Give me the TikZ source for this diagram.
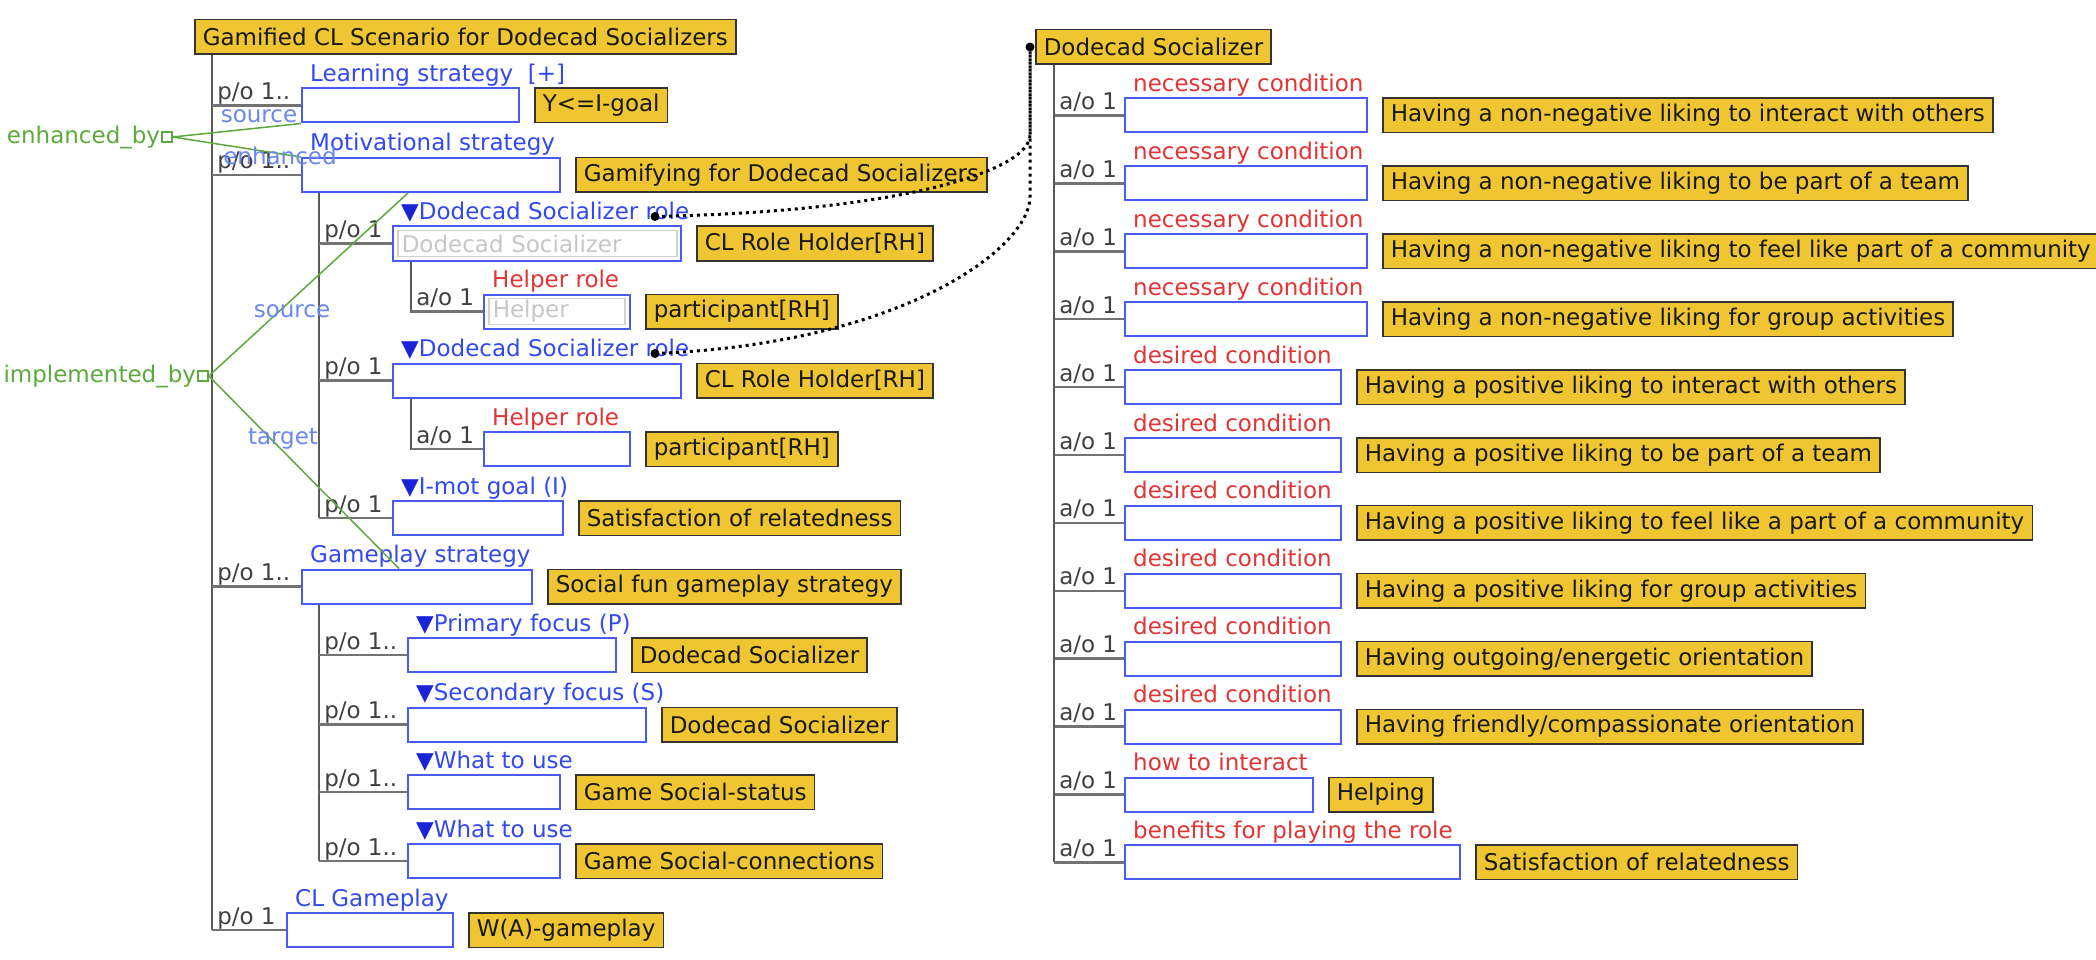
\documentclass[tikz,border=0pt]{standalone}
\usepackage{fontspec}
\setmainfont{DejaVu Sans}
\definecolor{boxyellow}{RGB}{239,197,50}
\definecolor{slotblue}{RGB}{72,92,245}
\definecolor{capblue}{RGB}{50,72,240}
\definecolor{triblue}{RGB}{25,35,215}
\definecolor{capred}{RGB}{226,52,52}
\definecolor{relgreen}{RGB}{92,170,62}
\definecolor{rolelabel}{RGB}{105,135,240}
\newcommand\dtri{{\color{triblue}▼}}
\tikzset{
  every node/.style={font=\fontsize{23}{27}\selectfont},
  yel/.style={draw=black!80, line width=1.5pt, fill=boxyellow, text=black!90, anchor=west, minimum height=34.5pt, inner xsep=8pt, inner ysep=0pt},
  slot/.style={draw=slotblue, line width=2pt, fill=white, anchor=west, minimum height=34pt, inner sep=0pt},
  ghost/.style={draw=black!18, line width=1.5pt, fill=white, text=black!22, anchor=west, minimum height=26pt, inner xsep=4pt, inner ysep=0pt, align=left},
  captb/.style={anchor=base west, xshift=9pt, yshift=6pt, inner sep=0pt, text=capblue},
  captr/.style={captb, text=capred},
  mult/.style={anchor=base west, xshift=4pt, yshift=6pt, inner sep=0pt, text=black!75},
  trunk/.style={draw=black!65, line width=2pt},
  arm/.style={draw=black!55, line width=2.5pt},
  rel/.style={draw=relgreen, line width=1.5pt},
  relsq/.style={draw=relgreen, line width=1.5pt, fill=white, minimum size=10pt, inner sep=0pt},
  reltext/.style={text=relgreen, inner sep=0pt},
  endtext/.style={text=rolelabel, inner sep=0pt},
  link/.style={line width=3pt, dash pattern=on 3pt off 4pt}
}
\begin{document}
\begin{tikzpicture}[x=1pt, y=-1pt]
  \useasboundingbox (0,0) rectangle (2096,960);

  \node[yel] (scen) at (194,37) {Gamified CL Scenario for Dodecad Socializers};
  \coordinate (lt) at ([xshift=18pt]scen.south west);

  \node[slot, minimum width=217pt] (ls) at (301,105.5) {};
  \node[slot, minimum width=258pt] (ms) at (301,175) {};
  \node[slot, minimum width=230pt] (gs) at (301,586.5) {};
  \node[slot, minimum width=166pt] (cg) at (286,930) {};
  \node[captb] at (ls.north west) {Learning strategy\ \ [+]};
  \node[captb] at (ms.north west) {Motivational strategy};
  \node[captb] at (gs.north west) {Gameplay strategy};
  \node[captb] at (cg.north west) {CL Gameplay};
  \node[yel] (lsv) at ([xshift=14pt]ls.east) {Y<=I-goal};
  \node[yel] (msv) at ([xshift=14pt]ms.east) {Gamifying for Dodecad Socializers};
  \node[yel] (gsv) at ([xshift=14pt]gs.east) {Social fun gameplay strategy};
  \node[yel] (cgv) at ([xshift=14pt]cg.east) {W(A)-gameplay};
  \draw[trunk] (lt) -- (lt |- cg.west);
  \draw[arm] (lt |- ls.west) node[mult] {p/o 1..} -- (ls.west);
  \draw[arm] (lt |- ms.west) node[mult] {p/o 1..} -- (ms.west);
  \draw[arm] (lt |- gs.west) node[mult] {p/o 1..} -- (gs.west);
  \draw[arm] (lt |- cg.west) node[mult] {p/o 1} -- (cg.west);

  \node[slot, minimum width=288pt] (r1) at (392,243.5) {};
  \node[slot, minimum width=288pt] (r2) at (392,380.5) {};
  \node[slot, minimum width=170pt] (ig) at (392,518) {};
  \node[ghost, text width=271pt] at ([xshift=5pt]r1.west) {Dodecad Socializer};
  \node[captb] at (r1.north west) {\dtri Dodecad Socializer role};
  \node[captb] at (r2.north west) {\dtri Dodecad Socializer role};
  \node[captb] at (ig.north west) {\dtri I-mot goal (I)};
  \node[yel] (r1v) at ([xshift=14pt]r1.east) {CL Role Holder[RH]};
  \node[yel] (r2v) at ([xshift=14pt]r2.east) {CL Role Holder[RH]};
  \node[yel] (igv) at ([xshift=14pt]ig.east) {Satisfaction of relatedness};
  \coordinate (mt) at ([xshift=18pt]ms.south west);
  \draw[trunk] (mt) -- (mt |- ig.west);
  \draw[arm] (mt |- r1.west) node[mult] {p/o 1} -- (r1.west);
  \draw[arm] (mt |- r2.west) node[mult] {p/o 1} -- (r2.west);
  \draw[arm] (mt |- ig.west) node[mult] {p/o 1} -- (ig.west);

  \node[slot, minimum width=146pt] (h1) at (483,311.5) {};
  \node[slot, minimum width=146pt] (h2) at (483,449) {};
  \node[ghost, text width=128pt] at ([xshift=5pt]h1.west) {Helper};
  \node[captr] at (h1.north west) {Helper role};
  \node[captr] at (h2.north west) {Helper role};
  \node[yel] (h1v) at ([xshift=14pt]h1.east) {participant[RH]};
  \node[yel] (h2v) at ([xshift=14pt]h2.east) {participant[RH]};
  \coordinate (rt1) at ([xshift=19pt]r1.south west);
  \coordinate (rt2) at ([xshift=19pt]r2.south west);
  \draw[trunk] (rt1) |- (h1.west);
  \draw[trunk] (rt2) |- (h2.west);
  \draw[arm] (rt1 |- h1.west) node[mult] {a/o 1} -- (h1.west);
  \draw[arm] (rt2 |- h2.west) node[mult] {a/o 1} -- (h2.west);

  \node[slot, minimum width=208pt] (pf) at (407,655) {};
  \node[slot, minimum width=238pt] (sf) at (407,724.5) {};
  \node[slot, minimum width=152pt] (wu1) at (407,792) {};
  \node[slot, minimum width=152pt] (wu2) at (407,861) {};
  \node[captb] at (pf.north west) {\dtri Primary focus (P)};
  \node[captb] at (sf.north west) {\dtri Secondary focus (S)};
  \node[captb] at (wu1.north west) {\dtri What to use};
  \node[captb] at (wu2.north west) {\dtri What to use};
  \node[yel] (pfv) at ([xshift=14pt]pf.east) {Dodecad Socializer};
  \node[yel] (sfv) at ([xshift=14pt]sf.east) {Dodecad Socializer};
  \node[yel] (wu1v) at ([xshift=14pt]wu1.east) {Game Social-status};
  \node[yel] (wu2v) at ([xshift=14pt]wu2.east) {Game Social-connections};
  \coordinate (gt) at ([xshift=18pt]gs.south west);
  \draw[trunk] (gt) -- (gt |- wu2.west);
  \foreach \s in {pf, sf, wu1, wu2}
    \draw[arm] (gt |- \s.west) node[mult] {p/o 1..} -- (\s.west);

  \node[yel] (dsr) at (1035,47) {Dodecad Socializer};
  \coordinate (rt) at ([xshift=19pt]dsr.south west);
  \foreach \i/\cond/\w/\txt in {
    0/necessary condition/242/Having a non-negative liking to interact with others,
    1/necessary condition/242/Having a non-negative liking to be part of a team,
    2/necessary condition/242/Having a non-negative liking to feel like part of a community,
    3/necessary condition/242/Having a non-negative liking for group activities,
    4/desired condition/216/Having a positive liking to interact with others,
    5/desired condition/216/Having a positive liking to be part of a team,
    6/desired condition/216/Having a positive liking to feel like a part of a community,
    7/desired condition/216/Having a positive liking for group activities,
    8/desired condition/216/{Having outgoing/energetic orientation},
    9/desired condition/216/{Having friendly/compassionate orientation},
    10/how to interact/188/Helping,
    11/benefits for playing the role/335/Satisfaction of relatedness}{
    \node[slot, minimum width=\w pt] (c\i) at (1124, 115.5+67.9*\i) {};
    \node[captr] at (c\i.north west) {\cond};
    \node[yel] (v\i) at ([xshift=14pt]c\i.east) {\txt};
    \draw[arm] (rt |- c\i.west) node[mult] {a/o 1} -- (c\i.west);
  }
  \draw[trunk] (rt) -- (rt |- c11.west);

  \node[relsq] (eb) at (167,137) {};
  \node[reltext, anchor=east] at ([xshift=-1pt]eb.west) {enhanced\_by};
  \draw[rel] (eb.east) -- (ls.south west);
  \draw[rel] (eb.east) -- (ms.north west);
  \node[endtext] at (259,116) {source};
  \node[endtext] at (280,156) {enhanced};
  \node[relsq] (ib) at (203,376) {};
  \node[reltext, anchor=east] at ([xshift=-1pt]ib.west) {implemented\_by};
  \draw[rel] (ib.east) -- ([xshift=107pt]ms.south west);
  \draw[rel] (ib.east) -- ([xshift=98pt]gs.north west);
  \node[endtext] at (292,311) {source};
  \node[endtext] at (283,439) {target};

  \coordinate (ra) at ([shift={(263,-9)}]r1.north west);
  \coordinate (rb) at ([shift={(263,-9)}]r2.north west);
  \coordinate (ds) at ([xshift=-5pt]dsr.west);
  \draw[link] (ra) .. controls +(250,-5) and +(0,35) .. ([yshift=-88pt]ds) -- (ds);
  \draw[link] (rb) .. controls +(250,-10) and +(0,50) .. ([yshift=-150pt]ds) -- (ds);
  \fill (ra) circle (4.5pt) (rb) circle (4.5pt) (ds) circle (4.5pt);
\end{tikzpicture}
\end{document}
